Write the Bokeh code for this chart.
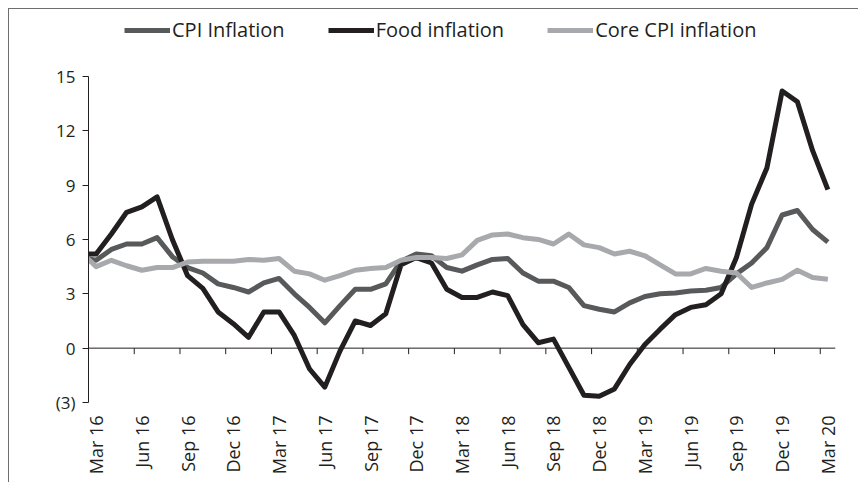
import math
from bokeh.plotting import figure
from bokeh.models import Range1d, FixedTicker, Span, Legend
from bokeh.embed import file_html
from bokeh.resources import INLINE

# month index: -1 = Feb 16 (clipped at the axis), 0 = Mar 16 ... 48 = Mar 20
month_idx = list(range(-1, 49))

cpi_inflation = [5.0, 4.85, 5.45, 5.75, 5.75, 6.1, 5.05, 4.45, 4.15, 3.55, 3.35,
                 3.1, 3.6, 3.85, 3.0, 2.25, 1.4, 2.35, 3.25, 3.25, 3.55,
                 4.8, 5.2, 5.1, 4.45, 4.25, 4.6, 4.9, 4.95, 4.15, 3.7,
                 3.7, 3.35, 2.35, 2.15, 2.0, 2.5, 2.85, 3.0, 3.05, 3.15,
                 3.2, 3.35, 4.1, 4.7, 5.55, 7.35, 7.6, 6.55, 5.85]

food_inflation = [5.2, 5.2, 6.3, 7.5, 7.8, 8.35, 6.0, 4.0, 3.3, 2.0, 1.35,
                  0.6, 2.0, 2.0, 0.7, -1.15, -2.15, -0.15, 1.5, 1.25, 1.9,
                  4.6, 5.0, 4.7, 3.25, 2.8, 2.8, 3.1, 2.9, 1.3, 0.3,
                  0.5, -1.05, -2.6, -2.65, -2.25, -0.9, 0.2, 1.05, 1.85, 2.25,
                  2.4, 3.0, 5.0, 7.95, 9.95, 14.2, 13.6, 10.9, 8.75]

core_cpi_inflation = [5.3, 4.5, 4.85, 4.55, 4.3, 4.45, 4.45, 4.75, 4.8, 4.8, 4.8,
                      4.9, 4.85, 4.95, 4.25, 4.1, 3.75, 4.0, 4.3, 4.4, 4.45,
                      4.85, 5.0, 5.0, 4.95, 5.15, 5.95, 6.25, 6.3, 6.1, 6.0,
                      5.75, 6.3, 5.7, 5.55, 5.2, 5.35, 5.1, 4.6, 4.1, 4.1,
                      4.4, 4.25, 4.15, 3.35, 3.6, 3.8, 4.3, 3.9, 3.8]

x_tick_labels = ["Mar 16", "Jun 16", "Sep 16", "Dec 16", "Mar 17", "Jun 17",
                 "Sep 17", "Dec 17", "Mar 18", "Jun 18", "Sep 18", "Dec 18",
                 "Mar 19", "Jun 19", "Sep 19", "Dec 19", "Mar 20"]
y_ticks = [-3, 0, 3, 6, 9, 12, 15]
y_tick_labels = ["(3)", "0", "3", "6", "9", "12", "15"]

FONT = "Open Sans"
TXT = "#231f20"

p = figure(width=850, height=474, output_backend="svg", toolbar_location=None,
           x_range=Range1d(-0.5, 48.5), y_range=Range1d(-3, 18.64),
           min_border_left=79, min_border_right=24, min_border_top=1,
           min_border_bottom=81)
p.styles = {"margin-left": "8px", "margin-top": "8px",
            "border-left": "1px solid #6d6e70", "border-top": "1px solid #6d6e70"}
p.outline_line_color = None
p.xgrid.grid_line_color = None
p.ygrid.grid_line_color = None

# x axis: labels only (line at zero drawn separately)
label_pos = [3 * k for k in range(len(x_tick_labels))]
p.xaxis.ticker = FixedTicker(ticks=label_pos)
p.xaxis.major_label_overrides = {pos: lab for pos, lab in zip(label_pos, x_tick_labels)}
p.xaxis.major_label_orientation = math.pi / 2
p.xaxis.axis_line_color = None
p.xaxis.major_tick_line_color = None
p.xaxis.minor_tick_line_color = None
p.xaxis.major_label_standoff = 7
p.xaxis.major_label_text_font = FONT
p.xaxis.major_label_text_font_size = "18px"
p.xaxis.major_label_text_color = TXT

# y axis (line only between -3 and 15)
p.yaxis.bounds = (-3, 15)
p.yaxis.ticker = FixedTicker(ticks=y_ticks)
p.yaxis.major_label_overrides = {t: s for t, s in zip(y_ticks, y_tick_labels)}
p.yaxis.axis_line_color = TXT
p.yaxis.major_tick_line_color = TXT
p.yaxis.major_tick_out = 6
p.yaxis.major_tick_in = 0
p.yaxis.minor_tick_line_color = None
p.yaxis.major_label_standoff = 7
p.yaxis.major_label_text_font = FONT
p.yaxis.major_label_text_font_size = "17px"
p.yaxis.major_label_text_color = TXT

# zero line with category-boundary tick marks
p.add_layout(Span(location=0, dimension="width", line_color=TXT, line_width=1))
boundaries = [3 * k + 2.5 for k in range(16)]
p.segment(x0=boundaries, y0=[0] * len(boundaries), x1=boundaries,
          y1=[-0.33] * len(boundaries), line_color=TXT, line_width=1)

r_cpi = p.line(month_idx, cpi_inflation, line_color="#58595b", line_width=5,
               line_join="round")
r_food = p.line(month_idx, food_inflation, line_color="#231f20", line_width=5,
                line_join="round")
r_core = p.line(month_idx, core_cpi_inflation, line_color="#a7a9ac", line_width=5,
                line_join="round")

legend = Legend(items=[("CPI Inflation", [r_cpi]), ("Food inflation", [r_food]),
                       ("Core CPI inflation", [r_core])],
                orientation="horizontal", location=(36, 359),
                glyph_width=46, glyph_height=20, label_standoff=2, spacing=43,
                padding=0, margin=0, border_line_color=None,
                background_fill_alpha=0,
                label_text_font=FONT, label_text_font_size="20px",
                label_text_color=TXT)
p.add_layout(legend, "center")

open("out.html", "w").write(file_html(p, INLINE))
